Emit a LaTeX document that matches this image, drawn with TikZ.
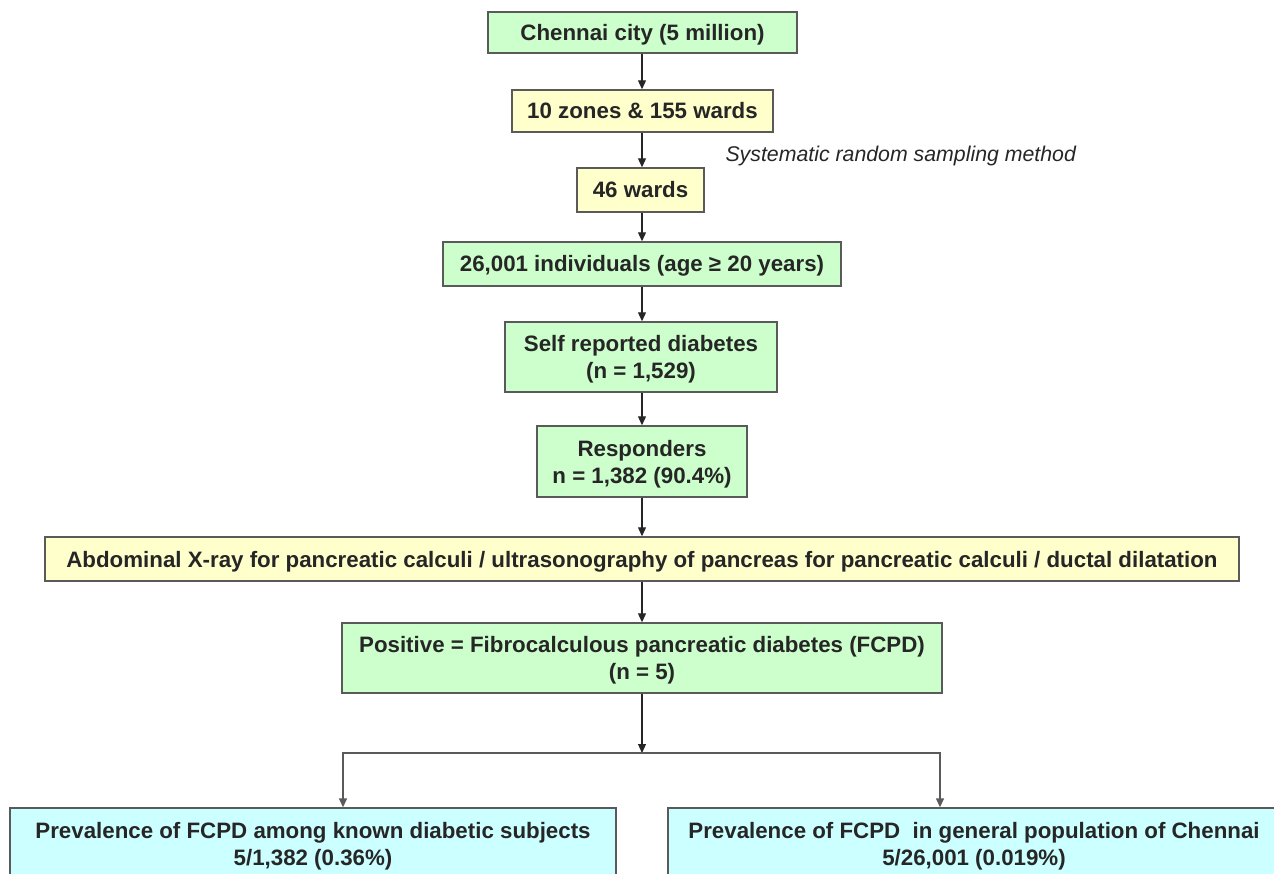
\documentclass[tikz,border=0pt]{standalone}
\usepackage{fontspec}
\setmainfont{Liberation Sans}
\usetikzlibrary{arrows.meta}
\definecolor{boxgreen}{HTML}{CCFFCC}
\definecolor{boxyellow}{HTML}{FFFFCC}
\definecolor{boxcyan}{HTML}{CCFFFF}
\definecolor{edgegray}{HTML}{5A5A5A}
\tikzset{
  box/.style={draw=edgegray, line width=1.4pt, rectangle, inner sep=0pt, align=center,
    font=\fontsize{22.3}{27}\selectfont\bfseries, text=black!85, text depth=0pt},
  oneline/.style={text height=16pt},
  twoline/.style={text height=43pt},
  gbox/.style={box, fill=boxgreen},
  ybox/.style={box, fill=boxyellow},
  cbox/.style={box, fill=boxcyan},
  arr/.style={draw=black!85, line width=1.1pt, -{Triangle[width=8pt,length=9pt]}},
  garr/.style={draw=edgegray, line width=1.4pt, -{Triangle[width=8pt,length=9pt]}},
}
\begin{document}
\begin{tikzpicture}[x=1pt,y=-1pt]
\useasboundingbox (0,0) rectangle (1274,874);
\node[gbox, oneline, minimum width=309pt, minimum height=41pt] (chennai) at (642.5,32.5) {Chennai city (5 million)};
\node[ybox, oneline, minimum width=261pt, minimum height=42pt] (zones) at (642.5,111) {10 zones \& 155 wards};
\node[ybox, oneline, minimum width=127pt, minimum height=44pt] (wards) at (640.5,190) {46 wards};
\node[gbox, oneline, minimum width=398pt, minimum height=44pt] (indiv) at (642,264) {26,001 individuals (age ≥ 20 years)};
\node[gbox, twoline, minimum width=272pt, minimum height=70pt] (self) at (641,357) {Self reported diabetes\\(n = 1,529)};
\node[gbox, twoline, minimum width=210pt, minimum height=71pt] (resp) at (642,461.5) {Responders\\n = 1,382 (90.4\%)};
\node[ybox, oneline, minimum width=1194pt, minimum height=44pt] (xray) at (642,559) {Abdominal X-ray for pancreatic calculi / ultrasonography of pancreas for pancreatic calculi / ductal dilatation};
\node[gbox, twoline, minimum width=600pt, minimum height=70pt] (pos) at (642,658) {Positive = Fibrocalculous pancreatic diabetes (FCPD)\\(n = 5)};
\node[cbox, twoline, minimum width=606pt, minimum height=72pt] (left) at (313,844) {Prevalence of FCPD among known diabetic subjects\\5/1,382 (0.36\%)};
\node[cbox, twoline, minimum width=612pt, minimum height=72pt] (right) at (974,844) {Prevalence of FCPD~ in general population of Chennai\\5/26,001 (0.019\%)};
\node[font=\fontsize{21.3}{24}\selectfont\itshape, text=black!85, anchor=west] (method) at (722,156) {Systematic random sampling method};
\coordinate (split) at (642,753);
\draw[arr] (chennai.south -| 642,0) -- (zones.north -| 642,0);
\draw[arr] (zones.south -| 642,0) -- (wards.north -| 642,0);
\draw[arr] (wards.south -| 642,0) -- (indiv.north -| 642,0);
\draw[arr] (indiv.south -| 642,0) -- (self.north -| 642,0);
\draw[arr] (self.south -| 642,0) -- (resp.north -| 642,0);
\draw[arr] (resp.south -| 642,0) -- (xray.north -| 642,0);
\draw[arr] (xray.south -| 642,0) -- (pos.north -| 642,0);
\draw[arr] (pos.south -| 642,0) -- (split);
\draw[garr] (split) -| ([xshift=30pt]left.north);
\draw[garr] (split) -| ([xshift=-34pt]right.north);
\end{tikzpicture}
\end{document}
